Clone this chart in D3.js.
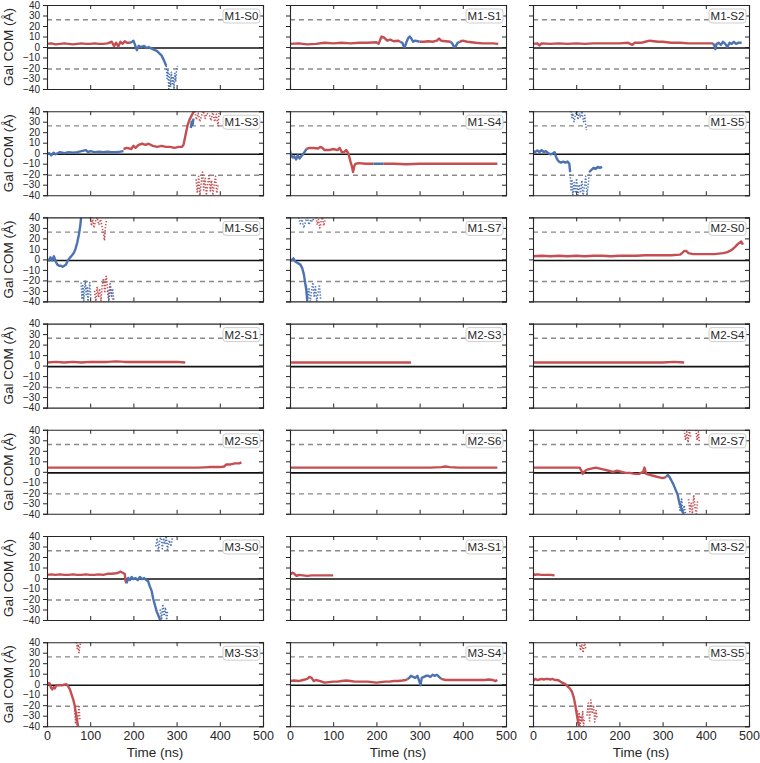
<!DOCTYPE html>
<html>
<head>
<meta charset="utf-8">
<script src="https://cdn.jsdelivr.net/npm/d3@7"></script>
<style>
  body { margin: 0; background: #fff; }
  text { font-family: "Liberation Sans", Arial, sans-serif; }
</style>
</head>
<body>
<div id="chart"></div>
<script>
(function () {
  "use strict";

  // tick values
  const xTicks = [0, 100, 200, 300, 400, 500];
  const yTicks = [40, 30, 20, 10, 0, -10, -20, -30, -40];
  const refLines = { upper: 26, center: -1, lower: -21 };

  // each run: list of [kind, points]; r/b = line, rs/bs = scattered wrap points
  const M1_S0 = [
    ["r", [[0,3],[10,3.5],[20,2.5],[30,3],[40,3.5],[50,3],[60,2.5],[70,3],[80,3.5],[90,3],[100,3],[110,3.5],[120,3],[130,3],[140,3.5],[150,5],[155,1],[160,4],[165,0.5],[170,5],[175,3],[180,5.5],[185,4],[192,4]]],
    ["b", [[192,4],[197,5],[200,6],[203,3],[206,-1],[208,-3],[212,1],[218,0],[225,1],[230,-1],[235,0],[240,-1],[245,-2],[250,-3],[255,-4],[260,-6],[265,-8],[270,-12],[273,-15],[276,-18]]],
    ["bs", [[276,-18],[278,-30],[280,-22],[282,-40],[284,-26],[286,-38],[288,-24],[290,-35],[292,-28],[294,-40],[296,-25],[298,-33],[300,-22],[302,-18]]]
  ];
  const M1_S1 = [
    ["r", [[0,3],[20,3.5],[40,2.5],[60,3],[80,4],[100,3.5],[120,4],[140,3.5],[160,4],[180,4],[200,4.5],[205,3],[208,6],[212,10],[218,9],[225,6],[232,7],[240,5.5],[250,6],[255,5]]],
    ["b", [[255,5],[260,4],[263,1],[266,0],[269,4],[273,8],[277,10],[281,8],[285,5],[290,6],[300,5]]],
    ["r", [[300,5],[310,5],[320,5.5],[330,5],[340,6],[345,8],[350,6],[360,5.5],[372,5]]],
    ["b", [[372,5],[376,3],[380,0],[384,1],[388,4],[393,5]]],
    ["r", [[393,5],[400,6],[410,5],[420,4.5],[430,4],[445,3.5],[460,3.5],[470,3.5],[482,3]]]
  ];
  const M1_S2 = [
    ["r", [[0,3],[10,3.5],[15,1.5],[20,3.5],[40,3],[60,3.5],[80,3],[100,3.5],[120,3],[140,3.5],[160,3.5],[180,3.5],[200,3.5],[220,4],[230,2],[235,4],[250,4],[260,5],[270,6],[280,5.5],[290,5],[300,5],[320,4],[340,4],[360,3.5],[380,3.5],[400,3.5],[417,3.5]]],
    ["b", [[417,3.5],[420,1],[422,-2],[425,3],[430,4],[435,2],[440,5],[445,3],[450,0],[455,4],[460,3],[465,5],[470,3],[475,4],[483,4]]]
  ];
  const M1_S3 = [
    ["b", [[0,-1],[5,0],[10,-2],[15,0.5],[20,-1],[30,1],[40,0],[50,1],[60,0.5],[70,1],[80,2],[90,3],[95,1],[100,2],[110,1],[120,1.5],[130,1],[140,1.5],[150,1],[160,1],[170,1.5],[177,2]]],
    ["r", [[177,4],[185,5],[195,4],[200,7],[205,5],[212,8],[220,9],[228,8],[235,9],[245,7],[255,6],[265,7],[275,6],[285,6],[295,5],[305,6],[312,6],[316,8],[320,16],[325,26],[330,32],[335,36],[340,40]]],
    ["b", [[333,24],[335,30],[337,27],[339,33]]],
    ["rs", [[342,40],[346,32],[350,38],[354,30],[358,36],[362,40],[366,33],[370,38],[376,36],[380,31],[384,40],[388,30],[392,37],[396,26],[398,38]]],
    ["rs", [[345,-25],[348,-38],[351,-22],[354,-40],[357,-28],[360,-18],[363,-35],[366,-24],[369,-40],[372,-30],[375,-20],[378,-36],[381,-26],[384,-40],[387,-30],[390,-22],[393,-38],[396,-30]]]
  ];
  const M1_S4 = [
    ["b", [[0,2],[3,-2],[6,-4],[10,-3],[14,-6],[18,-2],[22,-5],[26,-3],[30,-1],[35,2],[38,4]]],
    ["r", [[38,4],[45,5],[55,5],[65,4.5],[70,6],[75,5],[80,3],[90,3],[100,4],[110,3],[115,5],[120,1],[125,1],[130,3],[135,0],[140,-8],[143,-12],[146,-18],[149,-12],[152,-10],[160,-9.5],[175,-10],[193,-10]]],
    ["b", [[193,-10],[200,-10],[208,-10],[216,-10]]],
    ["r", [[216,-10],[240,-10],[270,-10.5],[300,-10],[330,-10],[360,-10],[390,-10],[420,-10],[450,-10],[480,-10]]]
  ];
  const M1_S5 = [
    ["b", [[0,2],[5,1],[10,2.5],[15,1],[20,3],[25,1],[30,2],[35,0],[40,-1],[45,-0.5],[50,1],[53,-3],[56,-6],[60,-8],[65,-9],[70,-8],[75,-9],[80,-8],[84,-10],[86,-18]]],
    ["bs", [[86,-20],[88,-35],[90,-25],[92,-40],[95,-28],[98,-38],[101,-24],[104,-40],[107,-30],[110,-38],[113,-26],[116,-40],[119,-32],[122,-22],[125,-40],[128,-30],[130,-20]]],
    ["bs", [[88,40],[90,34],[92,38],[95,30],[98,36],[101,40],[104,32],[107,38],[110,34],[113,40],[117,30],[120,36],[122,27],[124,22]]],
    ["b", [[130,-18],[135,-16],[140,-14],[145,-15],[150,-13],[155,-14],[160,-13]]]
  ];
  const M1_S6 = [
    ["b", [[0,0],[5,-1],[8,2],[12,-1],[16,3],[20,-2],[24,-5],[28,-6],[32,-6],[36,-7],[40,-6],[44,-5],[47,-2],[50,0],[54,2],[58,4],[62,6],[66,10],[70,16],[74,24],[77,32],[79,40]]],
    ["bs", [[79,-22],[81,-38],[83,-25],[85,-40],[87,-28],[89,-20],[91,-35],[93,-26],[95,-40],[97,-30],[99,-22],[101,-36]]],
    ["rs", [[100,40],[103,32],[106,38],[109,30],[112,36],[116,40],[120,33],[124,38],[128,30],[131,24],[133,18],[135,30],[138,38]]],
    ["rs", [[110,-30],[113,-40],[116,-26],[119,-36],[122,-28],[125,-40],[128,-24],[131,-18],[134,-32],[137,-16],[140,-26],[143,-38],[146,-22],[150,-34],[153,-40]]],
    ["bs", [[140,-30],[143,-40],[146,-25],[149,-35],[152,-28],[155,-40]]]
  ];
  const M1_S7 = [
    ["b", [[0,0],[4,-1],[8,1],[12,-2],[16,-3],[20,-4],[24,-5],[28,-8],[32,-14],[35,-22],[38,-30],[40,-40]]],
    ["bs", [[38,-25],[41,-38],[44,-28],[47,-40],[50,-30],[53,-22],[56,-36],[59,-26],[62,-40],[65,-32],[68,-24],[71,-38]]],
    ["bs", [[20,40],[24,34],[28,38],[32,30],[36,36],[40,40],[44,33],[48,38],[52,36],[56,40]]],
    ["rs", [[60,40],[63,33],[66,38],[69,30],[72,36],[75,40],[78,32],[81,37]]]
  ];
  const M2_S0 = [
    ["r", [[0,3],[20,3.5],[40,3],[60,3.5],[80,3],[100,3.5],[120,3],[140,3.5],[160,3.5],[180,3],[200,3.5],[220,3.5],[240,3.5],[260,4],[280,4],[300,4],[320,4],[340,4.5],[345,6],[350,8],[355,8],[360,6],[370,5],[380,5],[400,5],[420,5],[440,6],[450,7],[460,9],[468,12],[475,15],[482,17],[486,14]]]
  ];
  const M2_S1 = [
    ["r", [[0,3],[20,3.5],[40,3],[60,3.5],[80,3],[100,3.5],[120,3.5],[140,3.5],[160,4],[180,3.5],[200,3.5],[220,3.5],[240,3.5],[260,3.5],[280,3.5],[300,3.5],[320,3]]]
  ];
  const M2_S3 = [
    ["r", [[0,3],[20,3],[40,3],[60,3],[80,3],[100,3],[120,3],[140,3],[160,3],[180,3],[200,3],[220,3],[240,3],[260,3],[280,3]]]
  ];
  const M2_S4 = [
    ["r", [[0,3],[25,3],[50,3],[75,3],[100,3],[125,3],[150,3],[175,3],[200,3],[225,3],[250,3],[275,3],[300,3],[325,3.5],[350,3]]]
  ];
  const M2_S5 = [
    ["r", [[0,4],[25,4],[50,4],[75,4],[100,4],[125,4],[150,4],[175,4],[200,4],[225,4],[250,4],[275,4],[300,4],[325,4],[350,4],[375,4.5],[400,4.5],[410,5],[415,7],[425,7],[435,8],[445,8],[450,9]]]
  ];
  const M2_S6 = [
    ["r", [[0,4],[25,4],[50,4],[75,4],[100,4],[125,4],[150,4],[175,4],[200,4],[225,4],[250,4],[275,4],[300,4],[325,4],[350,4.5],[360,5],[370,4.5],[390,4],[410,4],[430,4],[450,4],[480,4]]]
  ];
  const M2_S7 = [
    ["r", [[0,4],[20,4],[40,4],[60,4],[80,4],[100,4],[108,4],[112,1],[115,-2],[118,0],[125,2],[135,3],[145,4],[155,3],[165,2],[175,1],[185,0],[195,1],[205,0],[215,-1],[225,-1],[235,-2],[245,-2],[255,0],[258,4],[262,-2],[270,-3],[280,-4],[290,-5],[300,-6],[308,-5]]],
    ["b", [[308,-5],[312,-3],[316,-5],[320,-8],[325,-12],[330,-17],[335,-22],[338,-28],[342,-33],[346,-38],[350,-40]]],
    ["bs", [[338,-30],[341,-38],[344,-26],[347,-40],[350,-32],[353,-40]]],
    ["rs", [[350,40],[353,30],[356,38],[359,28],[362,40],[365,33]]],
    ["rs", [[360,-26],[363,-38],[366,-30],[369,-40],[372,-22],[375,-34],[378,-40],[381,-28]]],
    ["rs", [[377,40],[380,30],[383,38],[385,28]]]
  ];
  const M3_S0 = [
    ["r", [[0,3],[10,3.5],[20,3],[30,3.5],[40,3],[50,3],[60,3.5],[70,3],[80,3],[90,3.5],[100,3],[110,3],[120,3.5],[130,3],[140,4],[150,4],[160,4.5],[165,5],[170,6],[175,5],[180,4],[182,-3],[184,-5]]],
    ["b", [[184,-5],[188,0],[192,-2],[196,1],[200,-1],[205,0],[210,-2],[215,1],[220,-1],[225,0],[230,-2],[234,-3],[238,-8],[242,-12],[246,-20],[250,-26],[254,-32],[258,-36],[262,-40]]],
    ["bs", [[262,-30],[265,-40],[268,-25],[271,-36],[274,-28],[277,-40],[279,-32]]],
    ["bs", [[252,30],[255,38],[258,26],[261,36],[264,40],[267,28],[270,38],[273,32],[276,40],[279,27],[283,36],[287,30],[290,38]]]
  ];
  const M3_S1 = [
    ["r", [[0,5],[3,4],[6,5],[9,4.5],[12,3],[16,2],[20,3],[30,2.5],[40,2],[50,2.5],[60,2.5],[70,2.5],[80,2.5],[90,2.5],[100,2.5]]]
  ];
  const M3_S2 = [
    ["r", [[0,4],[5,3],[10,3.5],[20,3],[30,3],[40,3],[50,2.5]]]
  ];
  const M3_S3 = [
    ["r", [[0,2],[3,0],[6,1],[9,-3],[12,-5],[15,-3],[18,-4],[22,-1],[26,-1],[30,-1],[35,-1],[40,-0.5],[45,0],[49,-2],[53,-5],[57,-10],[61,-15],[64,-20],[67,-28],[70,-36],[72,-40]]],
    ["rs", [[64,-22],[66,-38],[68,-26],[70,-40],[72,-30],[74,-20],[76,-34]]],
    ["rs", [[68,40],[70,34],[72,38],[74,30],[76,36],[78,40]]]
  ];
  const M3_S4 = [
    ["r", [[0,3],[10,3.5],[20,3],[30,4],[40,5],[45,7],[50,6],[55,3],[60,4],[70,3],[80,1.5],[90,2],[100,2.5],[110,2.5],[120,3],[130,3.5],[140,3],[150,2.5],[160,2.5],[170,2.5],[180,2.5],[190,2],[200,1.5],[210,2],[220,2.5],[230,2.5],[240,3],[250,3],[260,3.5],[268,4],[272,5]]],
    ["b", [[272,5],[276,6],[280,8],[285,7],[290,6],[295,8],[300,2],[302,-1],[305,6],[310,7],[315,8],[320,8],[325,7],[330,9],[335,8],[340,9],[345,7],[350,5]]],
    ["r", [[350,5],[360,4],[370,4],[380,4],[390,4],[400,4],[410,4],[420,4],[430,4],[440,4],[450,4],[460,4.5],[470,4],[475,3],[480,4]]]
  ];
  const M3_S5 = [
    ["r", [[0,3],[5,5],[10,4],[15,4.5],[20,5],[25,4.5],[30,5],[35,5],[40,4.5],[45,5],[50,4],[55,4],[60,3.5],[65,2],[70,1],[75,0],[80,-2],[85,-4],[90,-7],[94,-12],[98,-20],[101,-28],[104,-35],[107,-40]]],
    ["rs", [[103,-25],[105,-38],[107,-28],[109,-40],[111,-30],[113,-36],[115,-26],[117,-40],[119,-32]]],
    ["rs", [[125,-30],[128,-18],[131,-35],[134,-15],[137,-28],[140,-20],[143,-36],[146,-25],[148,-32]]],
    ["rs", [[107,40],[110,32],[113,38],[116,30],[119,40],[122,34]]]
  ];

  const panels = [
    ["M1-S0", M1_S0], ["M1-S1", M1_S1], ["M1-S2", M1_S2],
    ["M1-S3", M1_S3], ["M1-S4", M1_S4], ["M1-S5", M1_S5],
    ["M1-S6", M1_S6], ["M1-S7", M1_S7], ["M2-S0", M2_S0],
    ["M2-S1", M2_S1], ["M2-S3", M2_S3], ["M2-S4", M2_S4],
    ["M2-S5", M2_S5], ["M2-S6", M2_S6], ["M2-S7", M2_S7],
    ["M3-S0", M3_S0], ["M3-S1", M3_S1], ["M3-S2", M3_S2],
    ["M3-S3", M3_S3], ["M3-S4", M3_S4], ["M3-S5", M3_S5]
  ];

  const colors = { r: "#c44e52", b: "#4c72b0" };

  const width = 760, height = 763;
  const pw = 216, ph = 84;
  const left0 = 47, colStep = 243;
  const top0 = 5, rowStep = 106.2;
  const nCols = 3, nRows = 7;

  const svg = d3.select("#chart").append("svg")
    .attr("width", width)
    .attr("height", height);

  const x = d3.scaleLinear().domain([0, 500]).range([0, pw]);
  const y = d3.scaleLinear().domain([-40, 40]).range([ph, 0]);

  const line = d3.line().x((d) => x(d[0])).y((d) => y(d[1]));

  svg.append("defs").append("clipPath").attr("id", "clip")
    .append("rect").attr("width", pw).attr("height", ph);

  panels.forEach(([name, runs], i) => {
    const col = i % nCols, row = Math.floor(i / nCols);
    const g = svg.append("g")
      .attr("transform", `translate(${left0 + col * colStep},${top0 + row * rowStep})`);

    const plot = g.append("g").attr("clip-path", "url(#clip)");

    // reference lines
    [refLines.upper, refLines.lower].forEach((v) => {
      plot.append("line")
        .attr("x1", 0).attr("x2", pw)
        .attr("y1", y(v)).attr("y2", y(v))
        .attr("stroke", "#8a8a8a")
        .attr("stroke-width", 1.4)
        .attr("stroke-dasharray", "5,4");
    });
    plot.append("line")
      .attr("x1", 0).attr("x2", pw)
      .attr("y1", y(refLines.center)).attr("y2", y(refLines.center))
      .attr("stroke", "#111")
      .attr("stroke-width", 1.6);

    runs.forEach(([kind, pts]) => {
      const scatter = kind.length > 1;
      plot.append("path")
        .attr("d", line(pts))
        .attr("fill", "none")
        .attr("stroke", colors[kind[0]])
        .attr("stroke-width", scatter ? 1.6 : 2.4)
        .attr("stroke-linejoin", "round")
        .attr("stroke-dasharray", scatter ? "1.3,1.7" : null);
    });

    // axes: outer ticks left, inner ticks on the other sides
    const yl = g.append("g").call(
      d3.axisLeft(y).tickValues(yTicks).tickSize(4).tickPadding(3)
        .tickFormat(col === 0 ? (d) => d3.format("")(d).replace("-", "\u2212") : "")
    );
    const yr = g.append("g").attr("transform", `translate(${pw},0)`)
      .call(d3.axisLeft(y).tickValues(yTicks).tickSize(4).tickFormat(""));
    const xt = g.append("g")
      .call(d3.axisBottom(x).tickValues(xTicks).tickSize(4).tickFormat(""));
    const xb = g.append("g").attr("transform", `translate(0,${ph})`)
      .call(d3.axisTop(x).tickValues(xTicks).tickSize(4).tickFormat(""));

    [yl, yr, xt, xb].forEach((a) => {
      a.selectAll(".domain").attr("stroke", "#262626").attr("stroke-width", 1.1);
      a.selectAll(".tick line").attr("stroke", "#262626");
    });
    yl.selectAll("text").attr("font-size", 10).attr("fill", "#262626")
      .attr("font-family", "Liberation Sans, Arial, sans-serif");

    if (row === nRows - 1) {
      const xl = g.append("g").attr("transform", `translate(0,${ph})`)
        .call(d3.axisBottom(x).tickValues(xTicks).tickSize(0).tickPadding(5));
      xl.select(".domain").remove();
      xl.selectAll("text").attr("font-size", 12.5).attr("fill", "#262626")
        .attr("font-family", "Liberation Sans, Arial, sans-serif");
      g.append("text")
        .attr("x", pw / 2).attr("y", ph + 31)
        .attr("text-anchor", "middle")
        .attr("font-size", 13.5).attr("fill", "#262626")
        .text("Time (ns)");
    }

    if (col === 0) {
      g.append("text")
        .attr("transform", `translate(-34,${ph / 2}) rotate(-90)`)
        .attr("text-anchor", "middle")
        .attr("font-size", 13.5).attr("fill", "#262626")
        .text("Gal COM (\u00c5)");
    }

    // run label box
    const lab = g.append("g").attr("transform", `translate(${pw - 3},4)`);
    lab.append("rect")
      .attr("x", -37).attr("y", 0)
      .attr("width", 37).attr("height", 14)
      .attr("rx", 3)
      .attr("fill", "#fff")
      .attr("stroke", "#cfcfcf");
    lab.append("text")
      .attr("x", -18.5).attr("y", 11)
      .attr("text-anchor", "middle")
      .attr("font-size", 11.5).attr("fill", "#262626")
      .text(name);
  });
})();
</script>
</body>
</html>
